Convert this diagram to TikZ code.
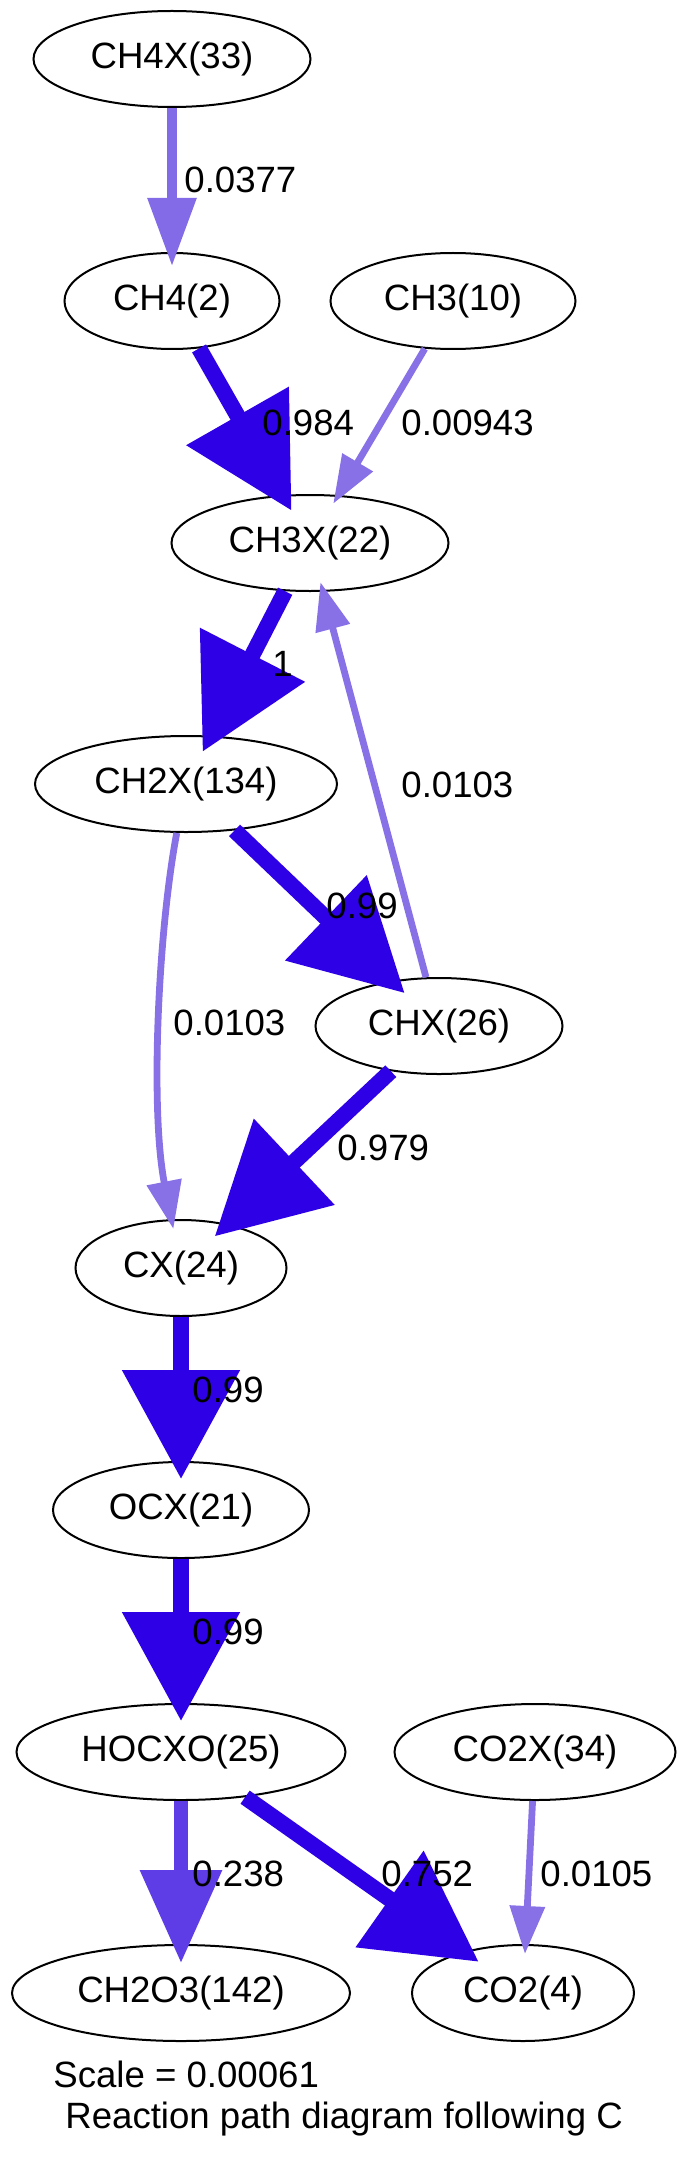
\documentclass[tikz,border=0pt]{standalone}
\usepackage{fontspec}
\setmainfont{Liberation Sans}
\usetikzlibrary{shapes.geometric,arrows.meta}
\definecolor{fluxhigh}{RGB}{46,0,230}
\definecolor{fluxmid}{RGB}{94,60,230}
\definecolor{fluxlow}{RGB}{131,106,230}
\definecolor{fluxmin}{RGB}{136,113,230}
\tikzset{
  species/.style={ellipse,draw,line width=1pt,minimum height=48pt,inner sep=0pt,
    font=\fontsize{18.3}{22}\selectfont},
  rate/.style={anchor=base west,inner sep=0pt,font=\fontsize{18.3}{22}\selectfont},
  strong/.style={draw=fluxhigh,line width=8pt,shorten >=-9pt,
    -{Triangle[length=54.5pt,width=57pt]}},
  medium/.style={draw=fluxmid,line width=6.6pt,shorten >=-9.5pt,
    -{Triangle[length=46.5pt,width=39.5pt]}},
  weak/.style={draw=fluxlow,line width=4.6pt,shorten >=-7pt,
    -{Triangle[length=34pt,width=23.5pt]}},
  faint/.style={draw=fluxmin,line width=3.4pt,shorten >=-5pt,
    -{Triangle[length=24pt,width=17pt]}}
}

\begin{document}
\begin{tikzpicture}[x=0.5pt,y=-0.5pt]
  \useasboundingbox (0,0) rectangle (688,2161);
  \node[species,minimum width=138.5pt] (ch4x) at (172,59) {CH4X(33)};
  \node[species,minimum width=107.5pt] (ch4) at (172,301) {CH4(2)};
  \node[species,minimum width=122.5pt] (ch3) at (453,301) {CH3(10)};
  \node[species,minimum width=138.5pt] (ch3x) at (310,543) {CH3X(22)};
  \node[species,minimum width=151pt] (ch2x) at (186,784) {CH2X(134)};
  \node[species,minimum width=123.5pt] (chx) at (439,1026) {CHX(26)};
  \node[species,minimum width=105.5pt] (cx) at (181,1268) {CX(24)};
  \node[species,minimum width=128pt] (ocx) at (181,1510) {OCX(21)};
  \node[species,minimum width=164.5pt] (hocxo) at (181,1752) {HOCXO(25)};
  \node[species,minimum width=140.5pt] (co2x) at (535,1752) {CO2X(34)};
  \node[species,minimum width=169pt] (ch2o3) at (181,1993) {CH2O3(142)};
  \node[species,minimum width=111pt] (co2) at (523,1993) {CO2(4)};
  \draw[weak] (ch4x) -- (ch4);
  \draw[strong] (ch4) -- (ch3x);
  \draw[faint] (ch3) -- (ch3x);
  \draw[strong] (ch3x) -- (ch2x);
  \draw[faint] (chx) -- (ch3x);
  \draw[strong] (ch2x) -- (chx);
  \draw[faint] (ch2x) .. controls (158,932) and (150,1110) .. (cx);
  \draw[strong] (chx) -- (cx);
  \draw[strong] (cx) -- (ocx);
  \draw[strong] (ocx) -- (hocxo);
  \draw[medium] (hocxo) -- (ch2o3);
  \draw[strong] (hocxo) -- (co2);
  \draw[faint] (co2x) -- (co2);
  \node[rate] (r-ch4x) at (184,193) {0.0377};
  \node[rate] (r-ch4) at (262,435) {0.984};
  \node[rate] (r-ch3) at (401,435) {0.00943};
  \node[rate] (r-ch3x) at (272,676) {1};
  \node[rate] (r-chx-up) at (401,797) {0.0103};
  \node[rate] (r-ch2x) at (326,918) {0.99};
  \node[rate] (r-ch2x-cx) at (173,1035) {0.0103};
  \node[rate] (r-chx) at (337,1160) {0.979};
  \node[rate] (r-cx) at (192,1402) {0.99};
  \node[rate] (r-ocx) at (192,1644) {0.99};
  \node[rate] (r-hocxo) at (192,1886) {0.238};
  \node[rate] (r-hocxo-co2) at (381,1886) {0.752};
  \node[rate] (r-co2x) at (540,1886) {0.0105};
  \node[rate] (scale) at (53,2087) {Scale = 0.00061};
  \node[rate] (title) at (65,2128) {Reaction path diagram following C};
\end{tikzpicture}
\end{document}
